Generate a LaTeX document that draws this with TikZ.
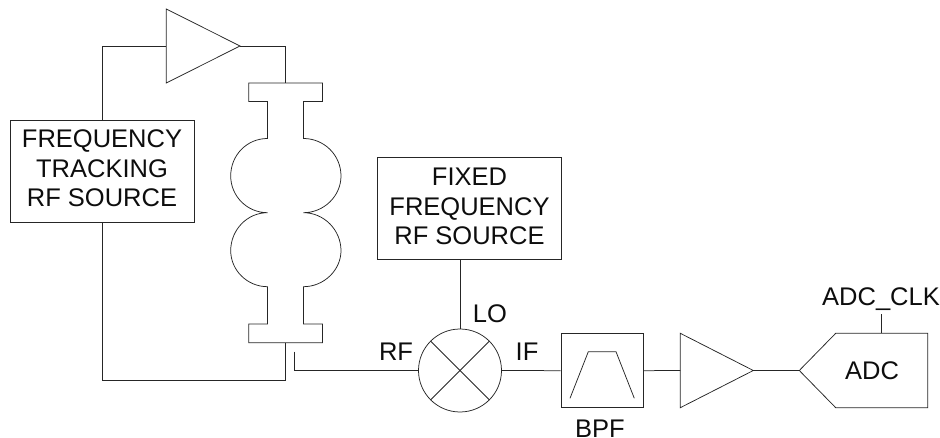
\documentclass[tikz,border=0pt]{standalone}
\usepackage{fontspec}
\setmainfont{Liberation Sans}
\tikzset{
  x=1pt,y=-1pt,
  ln/.style={draw=black!85,line width=0.75pt,line join=miter},
  lbl/.style={inner sep=0pt,font=\fontsize{25.5}{29.5}\selectfont,text=black!95,anchor=base},
  mlbl/.style={lbl,anchor=center,align=center},
  boxn/.style={ln,inner sep=0pt,minimum width=0pt}
}
\begin{document}
\begin{tikzpicture}
\useasboundingbox (0,0) rectangle (940,438);
% boxes
\node[boxn,minimum width=183.7pt,minimum height=102.3pt,anchor=north west] (track) at (10.3,120) {};
\node[mlbl] (tracktxt) at (102,168.7) {FREQUENCY\\TRACKING\\RF SOURCE};
\node[boxn,minimum width=183.7pt,minimum height=101.7pt,anchor=north west] (fixed) at (377.3,157.3) {};
\node[mlbl] (fixedtxt) at (469.5,206.5) {FIXED\\FREQUENCY\\RF SOURCE};
% amp 1
\coordinate (a1l) at (166.3,46);
\coordinate (a1t) at (240,46);
\draw[ln] (166.3,9) -- (240,46) -- (166.3,83) -- cycle;
% cavity
\coordinate (captop) at (285.7,83);
\coordinate (capbot) at (285.7,342.7);
\draw[ln] (285.7,83) -- (322.5,83) -- (322.5,101.5) -- (303.5,101.5) -- (303.5,138.5)
  .. controls (324,138.5) and (341,155) .. (341,176)
  .. controls (341,196) and (324,212.7) .. (303.5,212.7)
  .. controls (324,212.7) and (341,230) .. (341,250.7)
  .. controls (341,270) and (324,286.7) .. (303.5,286.7)
  -- (303.5,324) -- (322.5,324) -- (322.5,342.7) -- (248.7,342.7) -- (248.7,324) -- (267.5,324) -- (267.5,286.7)
  .. controls (247,286.7) and (230.7,270) .. (230.7,250.7)
  .. controls (230.7,230) and (247,212.7) .. (267.5,212.7)
  .. controls (247,212.7) and (230.7,196) .. (230.7,176)
  .. controls (230.7,155) and (247,138.5) .. (267.5,138.5)
  -- (267.5,101.5) -- (248.7,101.5) -- (248.7,83) -- cycle;
% wires around cavity
\coordinate (tt) at (102,120);
\coordinate (tb) at (102,222.3);
\draw[ln] (tt) -- (102,46) -- (a1l);
\draw[ln] (a1t) -- (285.7,46) -- (captop);
\draw[ln] (capbot) -- (285.7,380) -- (102,380) -- (tb);
% mixer
\node[ln,circle,minimum size=83pt,inner sep=0pt] (mix) at (460,370.5) {};
\draw[ln] (mix.north west) -- (mix.south east);
\draw[ln] (mix.north east) -- (mix.south west);
\coordinate (rfe) at (294.7,351.7);
\draw[ln] (rfe) -- (294.7,370.5) -- (mix.west);
\draw[ln] (fixed.south -| mix.north) -- (mix.north);
\node[lbl] (rf) at (396,361) {RF};
\node[lbl] (lo) at (490,322.7) {LO};
\node[lbl] (if) at (527,360.7) {IF};
% BPF
\node[boxn,minimum width=82.6pt,minimum height=74pt,anchor=north west] (bpf) at (560.7,333.3) {};
\draw[ln] (570,398.3) -- (588.3,351.7) -- (616,351.7) -- (634.3,398.3);
\node[lbl] (bpft) at (600,437) {BPF};
\draw[ln] (mix.east) -- (bpf.west);
% amp 2
\coordinate (a2l) at (680.3,370.5);
\coordinate (a2t) at (753.3,370.5);
\draw[ln] (680.3,333.3) -- (753.3,370.5) -- (680.3,407.7) -- cycle;
\draw[ln] (bpf.east) -- (a2l);
% ADC
\coordinate (adct) at (799.3,370.5);
\coordinate (clkb) at (881.7,333.3);
\coordinate (clkt) at (881.7,314.3);
\draw[ln] (adct) -- (835.7,333.3) -- (927.7,333.3) -- (927.7,407.7) -- (835.7,407.7) -- cycle;
\draw[ln] (a2t) -- (adct);
\draw[ln] (clkb) -- (clkt);
\node[lbl] (adc) at (872,379.5) {ADC};
\node[lbl] (clk) at (881,306) {ADC\_CLK};
\end{tikzpicture}
\end{document}
